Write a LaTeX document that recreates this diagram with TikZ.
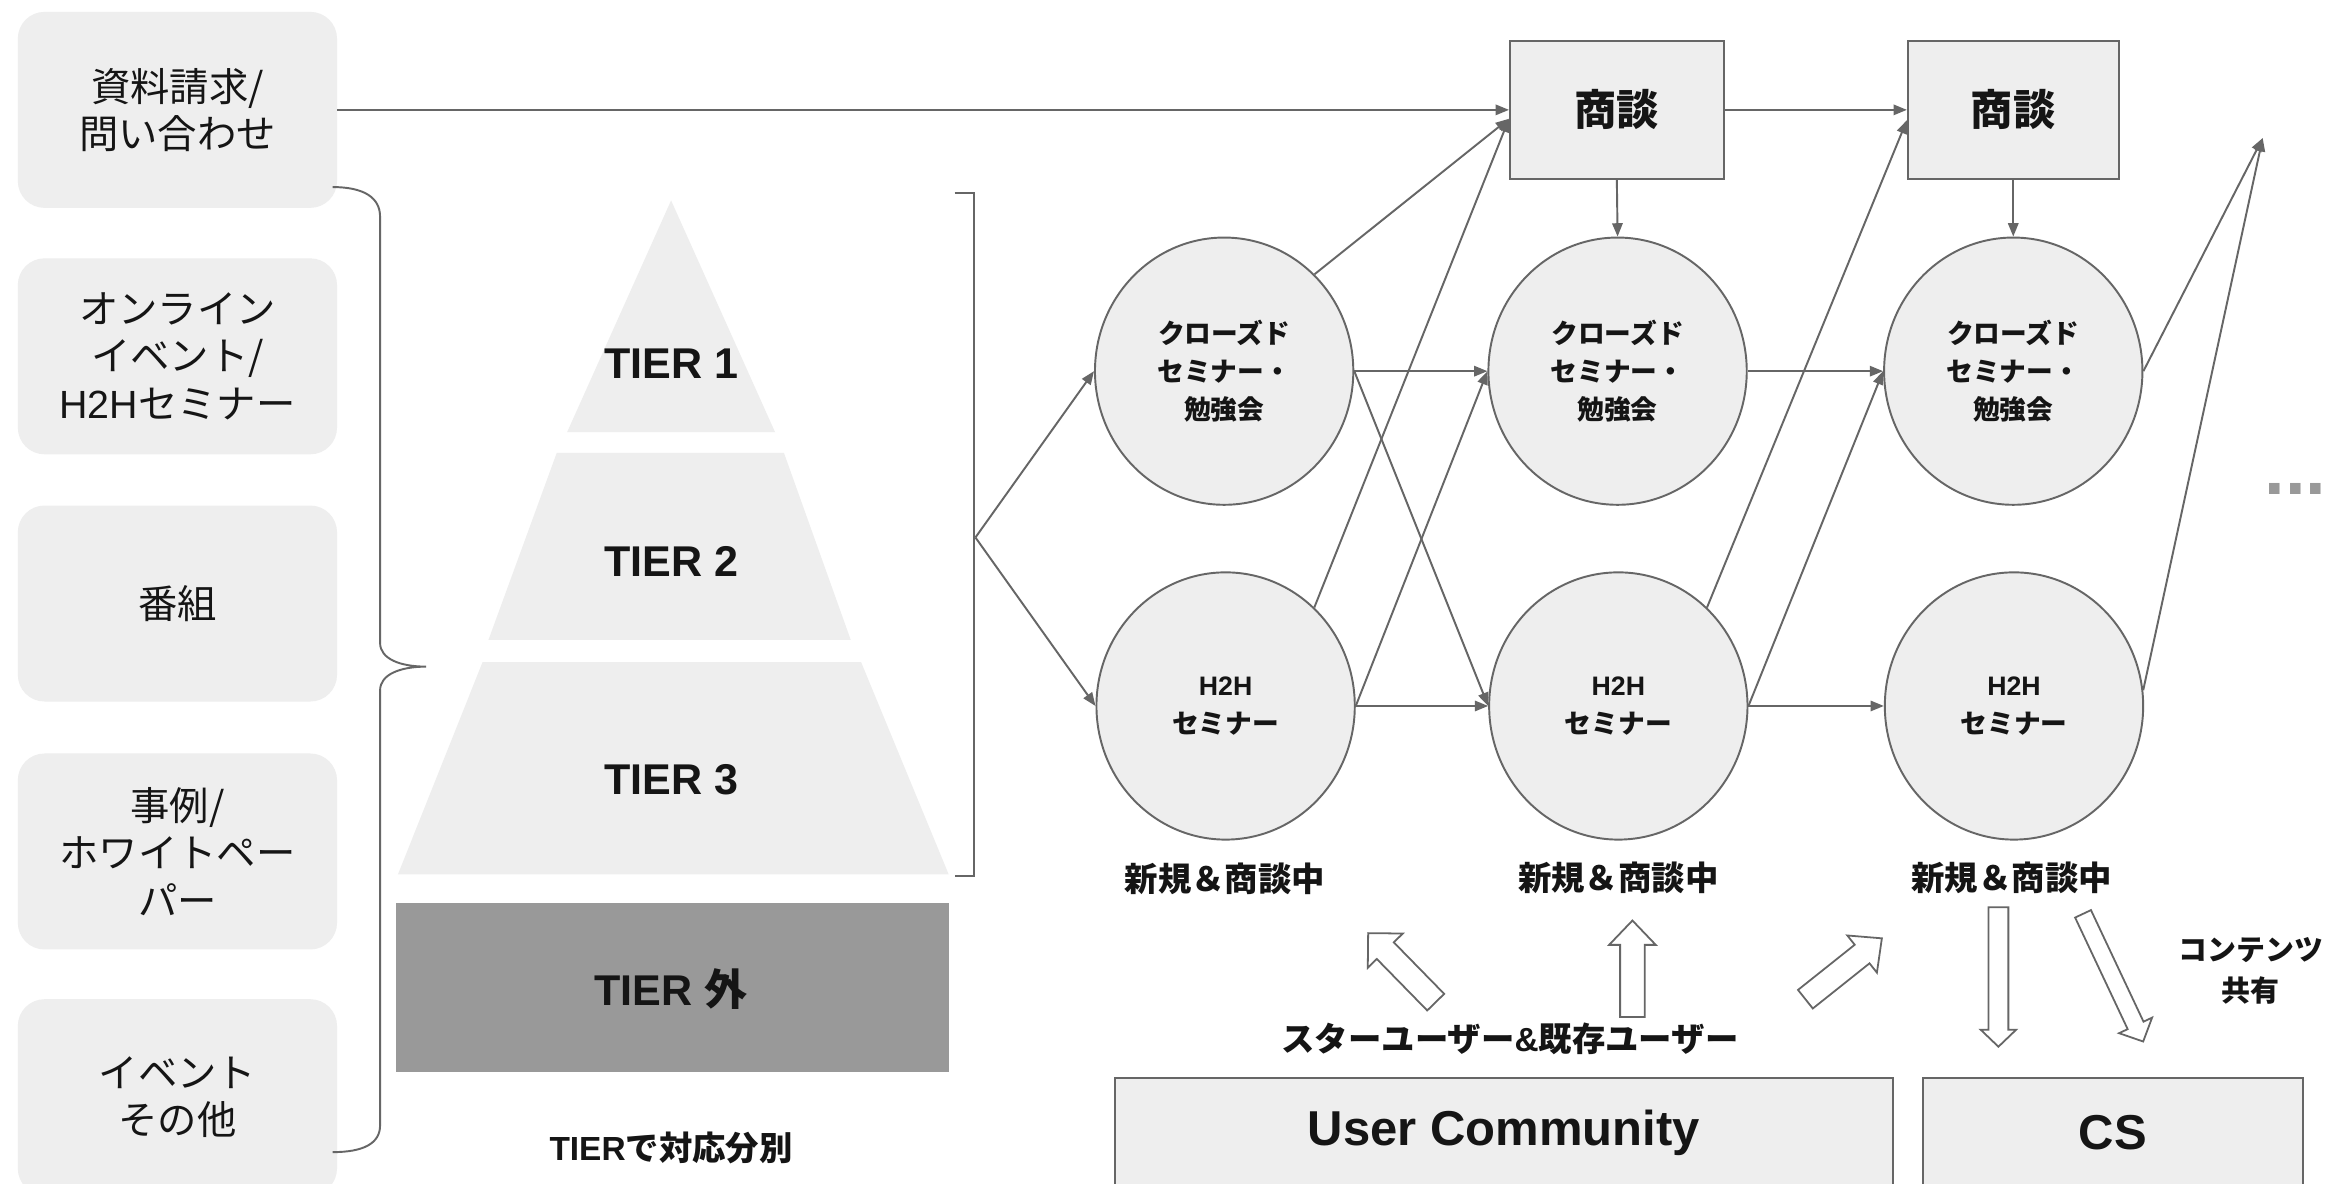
\documentclass[tikz,border=0pt]{standalone}
\usepackage{fontspec}
\setmainfont{Liberation Sans}
\newfontfamily\jp{Noto Sans CJK JP}
\usetikzlibrary{arrows.meta,calc,shapes.geometric}

\definecolor{boxgray}{HTML}{EEEEEE}
\definecolor{linegray}{HTML}{666666}
\definecolor{darktier}{HTML}{999999}
\definecolor{ink}{HTML}{151515}
\definecolor{dotgray}{HTML}{999999}

% hollow block arrow: name, tail, tip, half shaft width, half head width, head length
\newcommand\hollowarrow[6]{%
  \coordinate (#1-t) at (#2);
  \coordinate (#1-p) at (#3);
  \coordinate (#1-n) at ($(#1-p)!#6!(#1-t)$);
  \draw[hollow] ($(#1-t)!#4!90:(#1-p)$) -- ($(#1-n)!#4!90:(#1-p)$)
    -- ($(#1-n)!#5!90:(#1-p)$) -- (#1-p) -- ($(#1-n)!#5!-90:(#1-p)$)
    -- ($(#1-n)!#4!-90:(#1-p)$) -- ($(#1-t)!#4!-90:(#1-p)$) -- cycle;
}

\begin{document}
\begin{tikzpicture}[x=1pt,y=-1pt,
  srcbox/.style={fill=boxgray, rounded corners=18pt, minimum width=215pt,
    minimum height=132pt, inner sep=0pt, text=ink, align=center,
    font={\jp\fontsize{26.5}{32}\selectfont}},
  tierlbl/.style={inner sep=0pt, text=ink, font={\bfseries\fontsize{29}{34}\selectfont}},
  dealbox/.style={draw=linegray, fill=boxgray, line width=1.3pt, inner sep=0pt,
    minimum height=93pt, text=ink, font={\jp\bfseries\fontsize{28.5}{34}\selectfont}},
  stage/.style={ellipse, draw=linegray, fill=boxgray, line width=1.3pt, inner sep=0pt,
    minimum width=174pt, minimum height=180pt, align=center, text=ink,
    font={\jp\bfseries\fontsize{18}{25.3}\selectfont}},
  status/.style={inner sep=0pt, text=ink, align=center,
    font={\jp\bfseries\fontsize{22.5}{28}\selectfont}},
  basebox/.style={draw=linegray, fill=boxgray, line width=1.3pt, inner sep=0pt,
    minimum height=74pt, text=ink, font={\bfseries\fontsize{33}{38}\selectfont}},
  conn/.style={draw=linegray, line width=1.3pt, -{Triangle[length=9pt,width=7pt]}},
  bracket/.style={draw=linegray, line width=1.3pt},
  hollow/.style={draw=linegray, fill=white, line width=1.2pt, line join=miter}
]
\useasboundingbox (0,0) rectangle (1568,797);
\clip (0,0) rectangle (1568,797);
\fill[white] (0,0) rectangle (1568,797);

% channels on the left
\node[srcbox] (L1) at (119.5,74) {資料請求/\\問い合わせ};
\node[srcbox] (L2) at (119.5,240) {オンライン\\イベント/\\{\rmfamily H2H}セミナー};
\node[srcbox] (L3) at (119.5,406.5) {番組};
\node[srcbox] (L4) at (119.5,573.5) {事例/\\ホワイトペー\\パー};
\node[srcbox] (L5) at (119.5,739) {イベント\\その他};

% curly brace gathering the channels
\draw[bracket] (224,126) .. controls (245,126) and (256,133) .. (256,146)
  -- (256,433) .. controls (256,444) and (270,449) .. (287,449)
  .. controls (270,449) and (256,454) .. (256,465)
  -- (256,758) .. controls (256,770) and (245,776) .. (224,776);

% tier pyramid
\fill[boxgray] (452,135) -- (522,291) -- (382,291) -- cycle;
\fill[boxgray] (375,305) -- (528,305) -- (573,431) -- (329,431) -- cycle;
\fill[boxgray] (325,446) -- (580,446) -- (639,589) -- (268,589) -- cycle;
\fill[darktier] (267,608) rectangle (639,722);
\node[tierlbl] (T1) at (452,245) {TIER 1};
\node[tierlbl] (T2) at (452,378) {TIER 2};
\node[tierlbl] (T3) at (452,525) {TIER 3};
\node[tierlbl] (T4) at (452,666) {TIER {\jp 外}};
\node[status] (TN) at (452,773) {\rmfamily TIER{\jp で対応分別}};

% square bracket around tiers 1-3
\draw[bracket] (643,130) -- (656,130) -- (656,590) -- (643,590);
\coordinate (BR) at (657,362);

% deal boxes
\node[dealbox, minimum width=144pt] (S1) at (1089,74) {商談};
\node[dealbox, minimum width=142pt] (S2) at (1356,74) {商談};
\coordinate (S1in) at ($(S1.west)+(0,6)$);
\coordinate (S2in) at ($(S2.west)+(0,7)$);

% seminar stages
\node[stage] (C1) at (824.5,250) {クローズド\\セミナー・\\勉強会};
\node[stage] (C2) at (1089.5,250) {クローズド\\セミナー・\\勉強会};
\node[stage] (C3) at (1356,250) {クローズド\\セミナー・\\勉強会};
\node[stage] (H1) at (825.5,475.5) {{\rmfamily H2H}\\セミナー};
\node[stage] (H2) at (1090,475.5) {{\rmfamily H2H}\\セミナー};
\node[stage] (H3) at (1356.5,475.5) {{\rmfamily H2H}\\セミナー};
\coordinate (FE) at (1524,93);

\node[status] (N1) at (825,592) {新規＆商談中};
\node[status] (N2) at (1090,591) {新規＆商談中};
\node[status] (N3) at (1355,591) {新規＆商談中};

% continuation mark
\node[anchor=base west, inner sep=0pt, text=dotgray,
  font={\bfseries\fontsize{50}{60}\selectfont}] (MORE) at (1525,333) {...};

% flow connectors
\draw[conn] (L1.east) -- (S1.west);
\draw[conn] (S1.east) -- (S2.west);
\draw[conn] (S1.south) -- (C2.north);
\draw[conn] (S2.south) -- (C3.north);
\draw[conn] (BR) -- (C1.west);
\draw[conn] (BR) -- (H1.west);
\draw[conn] (C1.east) -- (C2.west);
\draw[conn] (C2.east) -- (C3.west);
\draw[conn] (H1.east) -- (H2.west);
\draw[conn] (H2.east) -- (H3.west);
\draw[conn] (C1.east) -- (H2.west);
\draw[conn] (H1.east) -- (C2.west);
\draw[conn] (C1.47) -- (S1in);
\draw[conn] (H1.48) -- (S1in);
\draw[conn] (H2.48) -- (S2in);
\draw[conn] (H2.east) -- (C3.west);
\draw[conn] (C3.east) -- (FE);
\draw[conn] (H3.7) -- (FE);

% community and CS
\node[status] (SU) at (1017,700) {スターユーザー{\rmfamily\&}既存ユーザー};
\node[status, font={\jp\bfseries\fontsize{19.5}{28}\selectfont}] (CT) at (1516,654) {コンテンツ\\共有};
\node[basebox, minimum width=524pt] (UC) at (1013,763) {User Community};
\node[basebox, minimum width=256pt] (CS) at (1423,763) {CS};

% hollow arrows between community, CS and stages
\hollowarrow{A1}{967,675}{921.5,628.5}{8pt}{16.5pt}{16.5pt}
\hollowarrow{A2}{1099.5,685}{1099.5,620}{8.3pt}{15.7pt}{16.4pt}
\hollowarrow{A3}{1216,673}{1267.5,632}{8pt}{16pt}{17pt}
\hollowarrow{A4}{1346,611}{1346,705}{6.7pt}{12pt}{11.5pt}
\hollowarrow{A5}{1403,615.5}{1443.5,701.5}{5.9pt}{12.3pt}{12pt}
\end{tikzpicture}
\end{document}
